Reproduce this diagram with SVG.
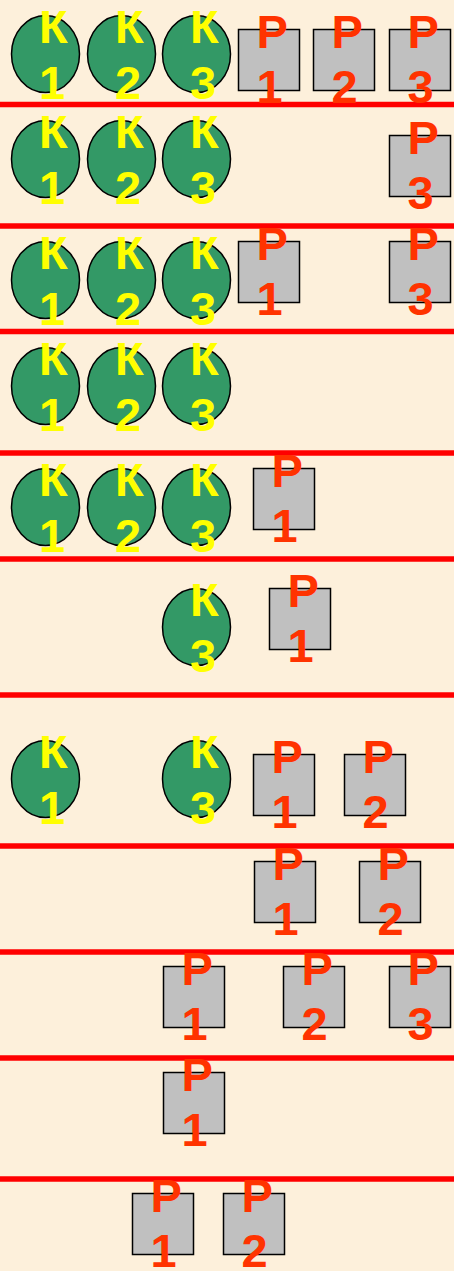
<svg xmlns="http://www.w3.org/2000/svg" width="454" height="1271" viewBox="0 0 454 1271">
<style>
.bg{fill:#FDF0DB}
.sep{stroke:#FF0000;stroke-width:5.5}
.k ellipse{fill:#339966;stroke:#000;stroke-width:1.5}
.r rect{fill:#C0C0C0;stroke:#000;stroke-width:1.5}
text{font-family:"Liberation Sans",Arial,sans-serif;font-weight:bold;font-size:47px}
.k text{fill:#FFFF00}
.r text{fill:#FF3300}
</style>
<defs>
<radialGradient id="g" cx="0.3" cy="0.3" r="0.9">
<stop offset="0" stop-color="#FEF3E1"/>
<stop offset="1" stop-color="#FCEED8"/>
</radialGradient>
</defs>
<rect class="bg" width="454" height="1271" fill="url(#g)"/>
<g id="separators">
<line class="sep" x1="0" y1="104.5" x2="454" y2="104.5"/>
<line class="sep" x1="0" y1="226" x2="454" y2="226"/>
<line class="sep" x1="0" y1="331.5" x2="454" y2="331.5"/>
<line class="sep" x1="0" y1="453" x2="454" y2="453"/>
<line class="sep" x1="0" y1="559" x2="454" y2="559"/>
<line class="sep" x1="0" y1="695" x2="454" y2="695"/>
<line class="sep" x1="0" y1="846" x2="454" y2="846"/>
<line class="sep" x1="0" y1="952" x2="454" y2="952"/>
<line class="sep" x1="0" y1="1058" x2="454" y2="1058"/>
<line class="sep" x1="0" y1="1179" x2="454" y2="1179"/>
</g>
<!-- row 1 -->
<g id="r1k1" class="k" transform="translate(11,15)"><ellipse cx="34.5" cy="39" rx="34" ry="38.5"/><text x="28" y="28">К<tspan x="28" dy="56">1</tspan></text></g>
<g id="r1k2" class="k" transform="translate(87,15)"><ellipse cx="34.5" cy="39" rx="34" ry="38.5"/><text x="28" y="28">К<tspan x="28" dy="56">2</tspan></text></g>
<g id="r1k3" class="k" transform="translate(162,15)"><ellipse cx="34.5" cy="39" rx="34" ry="38.5"/><text x="28" y="28">К<tspan x="28" dy="56">3</tspan></text></g>
<g id="r1p1" class="r" transform="translate(238,29)"><rect x="0.5" y="0.5" width="61" height="61"/><text x="18.5" y="18.5">Р<tspan x="18.5" dy="55">1</tspan></text></g>
<g id="r1p2" class="r" transform="translate(313,29)"><rect x="0.5" y="0.5" width="61" height="61"/><text x="18.5" y="18.5">Р<tspan x="18.5" dy="55">2</tspan></text></g>
<g id="r1p3" class="r" transform="translate(389,29)"><rect x="0.5" y="0.5" width="61" height="61"/><text x="18.5" y="18.5">Р<tspan x="18.5" dy="55">3</tspan></text></g>
<!-- row 2 -->
<g id="r2k1" class="k" transform="translate(11,120)"><ellipse cx="34.5" cy="39" rx="34" ry="38.5"/><text x="28" y="28">К<tspan x="28" dy="56">1</tspan></text></g>
<g id="r2k2" class="k" transform="translate(87,120)"><ellipse cx="34.5" cy="39" rx="34" ry="38.5"/><text x="28" y="28">К<tspan x="28" dy="56">2</tspan></text></g>
<g id="r2k3" class="k" transform="translate(162,120)"><ellipse cx="34.5" cy="39" rx="34" ry="38.5"/><text x="28" y="28">К<tspan x="28" dy="56">3</tspan></text></g>
<g id="r2p3" class="r" transform="translate(389,135)"><rect x="0.5" y="0.5" width="61" height="61"/><text x="18.5" y="18.5">Р<tspan x="18.5" dy="55">3</tspan></text></g>
<!-- row 3 -->
<g id="r3k1" class="k" transform="translate(11,241)"><ellipse cx="34.5" cy="39" rx="34" ry="38.5"/><text x="28" y="28">К<tspan x="28" dy="56">1</tspan></text></g>
<g id="r3k2" class="k" transform="translate(87,241)"><ellipse cx="34.5" cy="39" rx="34" ry="38.5"/><text x="28" y="28">К<tspan x="28" dy="56">2</tspan></text></g>
<g id="r3k3" class="k" transform="translate(162,241)"><ellipse cx="34.5" cy="39" rx="34" ry="38.5"/><text x="28" y="28">К<tspan x="28" dy="56">3</tspan></text></g>
<g id="r3p1" class="r" transform="translate(238,241)"><rect x="0.5" y="0.5" width="61" height="61"/><text x="18.5" y="18.5">Р<tspan x="18.5" dy="55">1</tspan></text></g>
<g id="r3p3" class="r" transform="translate(389,241)"><rect x="0.5" y="0.5" width="61" height="61"/><text x="18.5" y="18.5">Р<tspan x="18.5" dy="55">3</tspan></text></g>
<!-- row 4 -->
<g id="r4k1" class="k" transform="translate(11,347)"><ellipse cx="34.5" cy="39" rx="34" ry="38.5"/><text x="28" y="28">К<tspan x="28" dy="56">1</tspan></text></g>
<g id="r4k2" class="k" transform="translate(87,347)"><ellipse cx="34.5" cy="39" rx="34" ry="38.5"/><text x="28" y="28">К<tspan x="28" dy="56">2</tspan></text></g>
<g id="r4k3" class="k" transform="translate(162,347)"><ellipse cx="34.5" cy="39" rx="34" ry="38.5"/><text x="28" y="28">К<tspan x="28" dy="56">3</tspan></text></g>
<!-- row 5 -->
<g id="r5k1" class="k" transform="translate(11,468)"><ellipse cx="34.5" cy="39" rx="34" ry="38.5"/><text x="28" y="28">К<tspan x="28" dy="56">1</tspan></text></g>
<g id="r5k2" class="k" transform="translate(87,468)"><ellipse cx="34.5" cy="39" rx="34" ry="38.5"/><text x="28" y="28">К<tspan x="28" dy="56">2</tspan></text></g>
<g id="r5k3" class="k" transform="translate(162,468)"><ellipse cx="34.5" cy="39" rx="34" ry="38.5"/><text x="28" y="28">К<tspan x="28" dy="56">3</tspan></text></g>
<g id="r5p1" class="r" transform="translate(253,468)"><rect x="0.5" y="0.5" width="61" height="61"/><text x="18.5" y="18.5">Р<tspan x="18.5" dy="55">1</tspan></text></g>
<!-- row 6 -->
<g id="r6k3" class="k" transform="translate(162,588)"><ellipse cx="34.5" cy="39" rx="34" ry="38.5"/><text x="28" y="28">К<tspan x="28" dy="56">3</tspan></text></g>
<g id="r6p1" class="r" transform="translate(269,588)"><rect x="0.5" y="0.5" width="61" height="61"/><text x="18.5" y="18.5">Р<tspan x="18.5" dy="55">1</tspan></text></g>
<!-- row 7 -->
<g id="r7k1" class="k" transform="translate(11,740)"><ellipse cx="34.5" cy="39" rx="34" ry="38.5"/><text x="28" y="28">К<tspan x="28" dy="56">1</tspan></text></g>
<g id="r7k3" class="k" transform="translate(162,740)"><ellipse cx="34.5" cy="39" rx="34" ry="38.5"/><text x="28" y="28">К<tspan x="28" dy="56">3</tspan></text></g>
<g id="r7p1" class="r" transform="translate(253,754)"><rect x="0.5" y="0.5" width="61" height="61"/><text x="18.5" y="18.5">Р<tspan x="18.5" dy="55">1</tspan></text></g>
<g id="r7p2" class="r" transform="translate(344,754)"><rect x="0.5" y="0.5" width="61" height="61"/><text x="18.5" y="18.5">Р<tspan x="18.5" dy="55">2</tspan></text></g>
<!-- row 8 -->
<g id="r8p1" class="r" transform="translate(254,861)"><rect x="0.5" y="0.5" width="61" height="61"/><text x="18.5" y="18.5">Р<tspan x="18.5" dy="55">1</tspan></text></g>
<g id="r8p2" class="r" transform="translate(359,861)"><rect x="0.5" y="0.5" width="61" height="61"/><text x="18.5" y="18.5">Р<tspan x="18.5" dy="55">2</tspan></text></g>
<!-- row 9 -->
<g id="r9p1" class="r" transform="translate(163,966)"><rect x="0.5" y="0.5" width="61" height="61"/><text x="18.5" y="18.5">Р<tspan x="18.5" dy="55">1</tspan></text></g>
<g id="r9p2" class="r" transform="translate(283,966)"><rect x="0.5" y="0.5" width="61" height="61"/><text x="18.5" y="18.5">Р<tspan x="18.5" dy="55">2</tspan></text></g>
<g id="r9p3" class="r" transform="translate(389,966)"><rect x="0.5" y="0.5" width="61" height="61"/><text x="18.5" y="18.5">Р<tspan x="18.5" dy="55">3</tspan></text></g>
<!-- row 10 -->
<g id="r10p1" class="r" transform="translate(163,1072)"><rect x="0.5" y="0.5" width="61" height="61"/><text x="18.5" y="18.5">Р<tspan x="18.5" dy="55">1</tspan></text></g>
<!-- row 11 -->
<g id="r11p1" class="r" transform="translate(132,1193)"><rect x="0.5" y="0.5" width="61" height="61"/><text x="18.5" y="18.5">Р<tspan x="18.5" dy="55">1</tspan></text></g>
<g id="r11p2" class="r" transform="translate(223,1193)"><rect x="0.5" y="0.5" width="61" height="61"/><text x="18.5" y="18.5">Р<tspan x="18.5" dy="55">2</tspan></text></g>
</svg>
